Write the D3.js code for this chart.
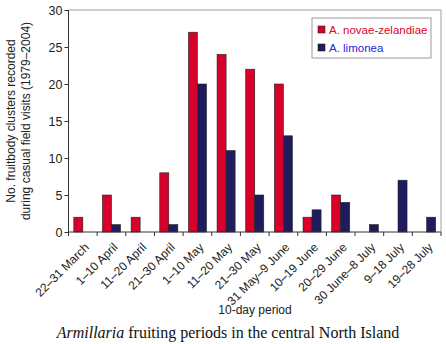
<!DOCTYPE html>
<html>
<head>
<meta charset="utf-8">
<script src="https://cdn.jsdelivr.net/npm/d3@7"></script>
<style>
  body { margin: 0; background: #fff; }
  svg { display: block; font-family: Arial, "Liberation Sans", sans-serif; }
</style>
</head>
<body>
<svg width="446" height="344"></svg>
<script>
const periods = ['22–31 March', '1–10 April', '11–20 April', '21–30 April', '1–10 May', '11–20 May',
  '21–30 May', '31 May–9 June', '10–19 June', '20–29 June', '30 June–8 July', '9–18 July', '19–28 July'];
const seriesNames = ['A. novae-zelandiae', 'A. limonea'];
const novaeZelandiae = [2, 5, 2, 8, 27, 24, 22, 20, 2, 5, 0, 0, 0];
const limonea = [0, 1, 0, 1, 20, 11, 5, 13, 3, 4, 1, 7, 2];
const yTicks = [0, 5, 10, 15, 20, 25, 30];

const colors = ['#d6002b', '#1f1c5e'];
const textColors = ['#e0002a', '#2424d8'];

const rows = periods.map((p, i) => ({ period: p, values: [novaeZelandiae[i], limonea[i]] }));

const plotL = 68.5, plotR = 441, plotT = 10, plotB = 232;

const svg = d3.select('svg');

const x0 = d3.scaleBand().domain(periods).range([plotL, plotR]).paddingInner(0.37).paddingOuter(0.185);
const x1 = d3.scaleBand().domain([0, 1]).range([0, x0.bandwidth()]);
const y = d3.scaleLinear().domain([0, 30]).range([plotB, plotT]);

// frame (top + right gray border)
svg.append('path')
  .attr('d', `M${plotL},${plotT}H${plotR}V${plotB}`)
  .attr('fill', 'none')
  .attr('stroke', '#a0a0a0')
  .attr('stroke-width', 1);

// bars
const groups = svg.append('g').selectAll('g')
  .data(rows)
  .join('g')
  .attr('transform', (d) => `translate(${x0(d.period)},0)`);

groups.selectAll('rect')
  .data((d) => d.values.map((v, k) => ({ k, v })).filter((e) => e.v > 0))
  .join('rect')
  .attr('x', (e) => x1(e.k))
  .attr('y', (e) => y(e.v))
  .attr('width', x1.bandwidth())
  .attr('height', (e) => y(0) - y(e.v))
  .attr('fill', (e) => colors[e.k])
  .attr('stroke', '#222')
  .attr('stroke-width', 0.6);

// y axis
const yAxis = svg.append('g')
  .attr('transform', `translate(${plotL},0)`)
  .call(d3.axisLeft(y).tickValues(yTicks).tickSize(4).tickPadding(2))
  .attr('font-family', null);
yAxis.select('.domain').attr('stroke', '#333').attr('d', `M0,${plotT}V${plotB}`);
yAxis.selectAll('.tick line').attr('stroke', '#333');
yAxis.selectAll('text').attr('font-size', 12.5).attr('fill', '#222');

// x axis: ticks at category boundaries
const step = x0.step();
const xAxisG = svg.append('g').attr('transform', `translate(0,${plotB})`);
xAxisG.append('line')
  .attr('x1', plotL).attr('x2', plotR)
  .attr('stroke', '#333');
xAxisG.selectAll('line.tk')
  .data(d3.range(periods.length + 1))
  .join('line')
  .attr('class', 'tk')
  .attr('x1', (i) => plotL + i * step).attr('x2', (i) => plotL + i * step)
  .attr('y1', 0).attr('y2', 4)
  .attr('stroke', '#333');
xAxisG.selectAll('text')
  .data(periods)
  .join('text')
  .attr('transform', (p) => `translate(${x0(p) + x0.bandwidth() / 2 + 1},10) rotate(-45)`)
  .attr('text-anchor', 'end')
  .attr('dy', '0.7em')
  .attr('font-size', 12)
  .attr('fill', '#222')
  .text((p) => p);

// axis titles
svg.append('text')
  .attr('transform', `translate(15,${(plotT + plotB) / 2}) rotate(-90)`)
  .attr('text-anchor', 'middle')
  .attr('font-size', 12)
  .attr('fill', '#222')
  .text('No. fruitbody clusters recorded');
svg.append('text')
  .attr('transform', `translate(29.5,${(plotT + plotB) / 2}) rotate(-90)`)
  .attr('text-anchor', 'middle')
  .attr('font-size', 12)
  .attr('fill', '#222')
  .text('during casual field visits (1979–2004)');

svg.append('text')
  .attr('x', 255)
  .attr('y', 314)
  .attr('text-anchor', 'middle')
  .attr('font-size', 12)
  .attr('fill', '#222')
  .text('10-day period');

// caption
const cap = svg.append('text')
  .attr('x', 228)
  .attr('y', 338)
  .attr('text-anchor', 'middle')
  .attr('font-family', '"Liberation Serif", "Times New Roman", serif')
  .attr('font-size', 16)
  .attr('fill', '#111');
cap.append('tspan').attr('font-style', 'italic').text('Armillaria');
cap.append('tspan').text(' fruiting periods in the central North Island');

// legend
const legend = svg.append('g').attr('transform', 'translate(312,18)');
legend.append('rect')
  .attr('width', 119).attr('height', 40)
  .attr('fill', '#fff')
  .attr('stroke', '#999');
seriesNames.forEach((name, k) => {
  const ly = 12 + k * 18;
  legend.append('rect')
    .attr('x', 6).attr('y', ly - 4)
    .attr('width', 7).attr('height', 7)
    .attr('fill', colors[k])
    .attr('stroke', '#222')
    .attr('stroke-width', 0.6);
  legend.append('text')
    .attr('x', 17).attr('y', ly)
    .attr('dy', '0.35em')
    .attr('font-size', 11.5)
    .attr('fill', textColors[k])
    .text(name);
});
</script>
</body>
</html>
